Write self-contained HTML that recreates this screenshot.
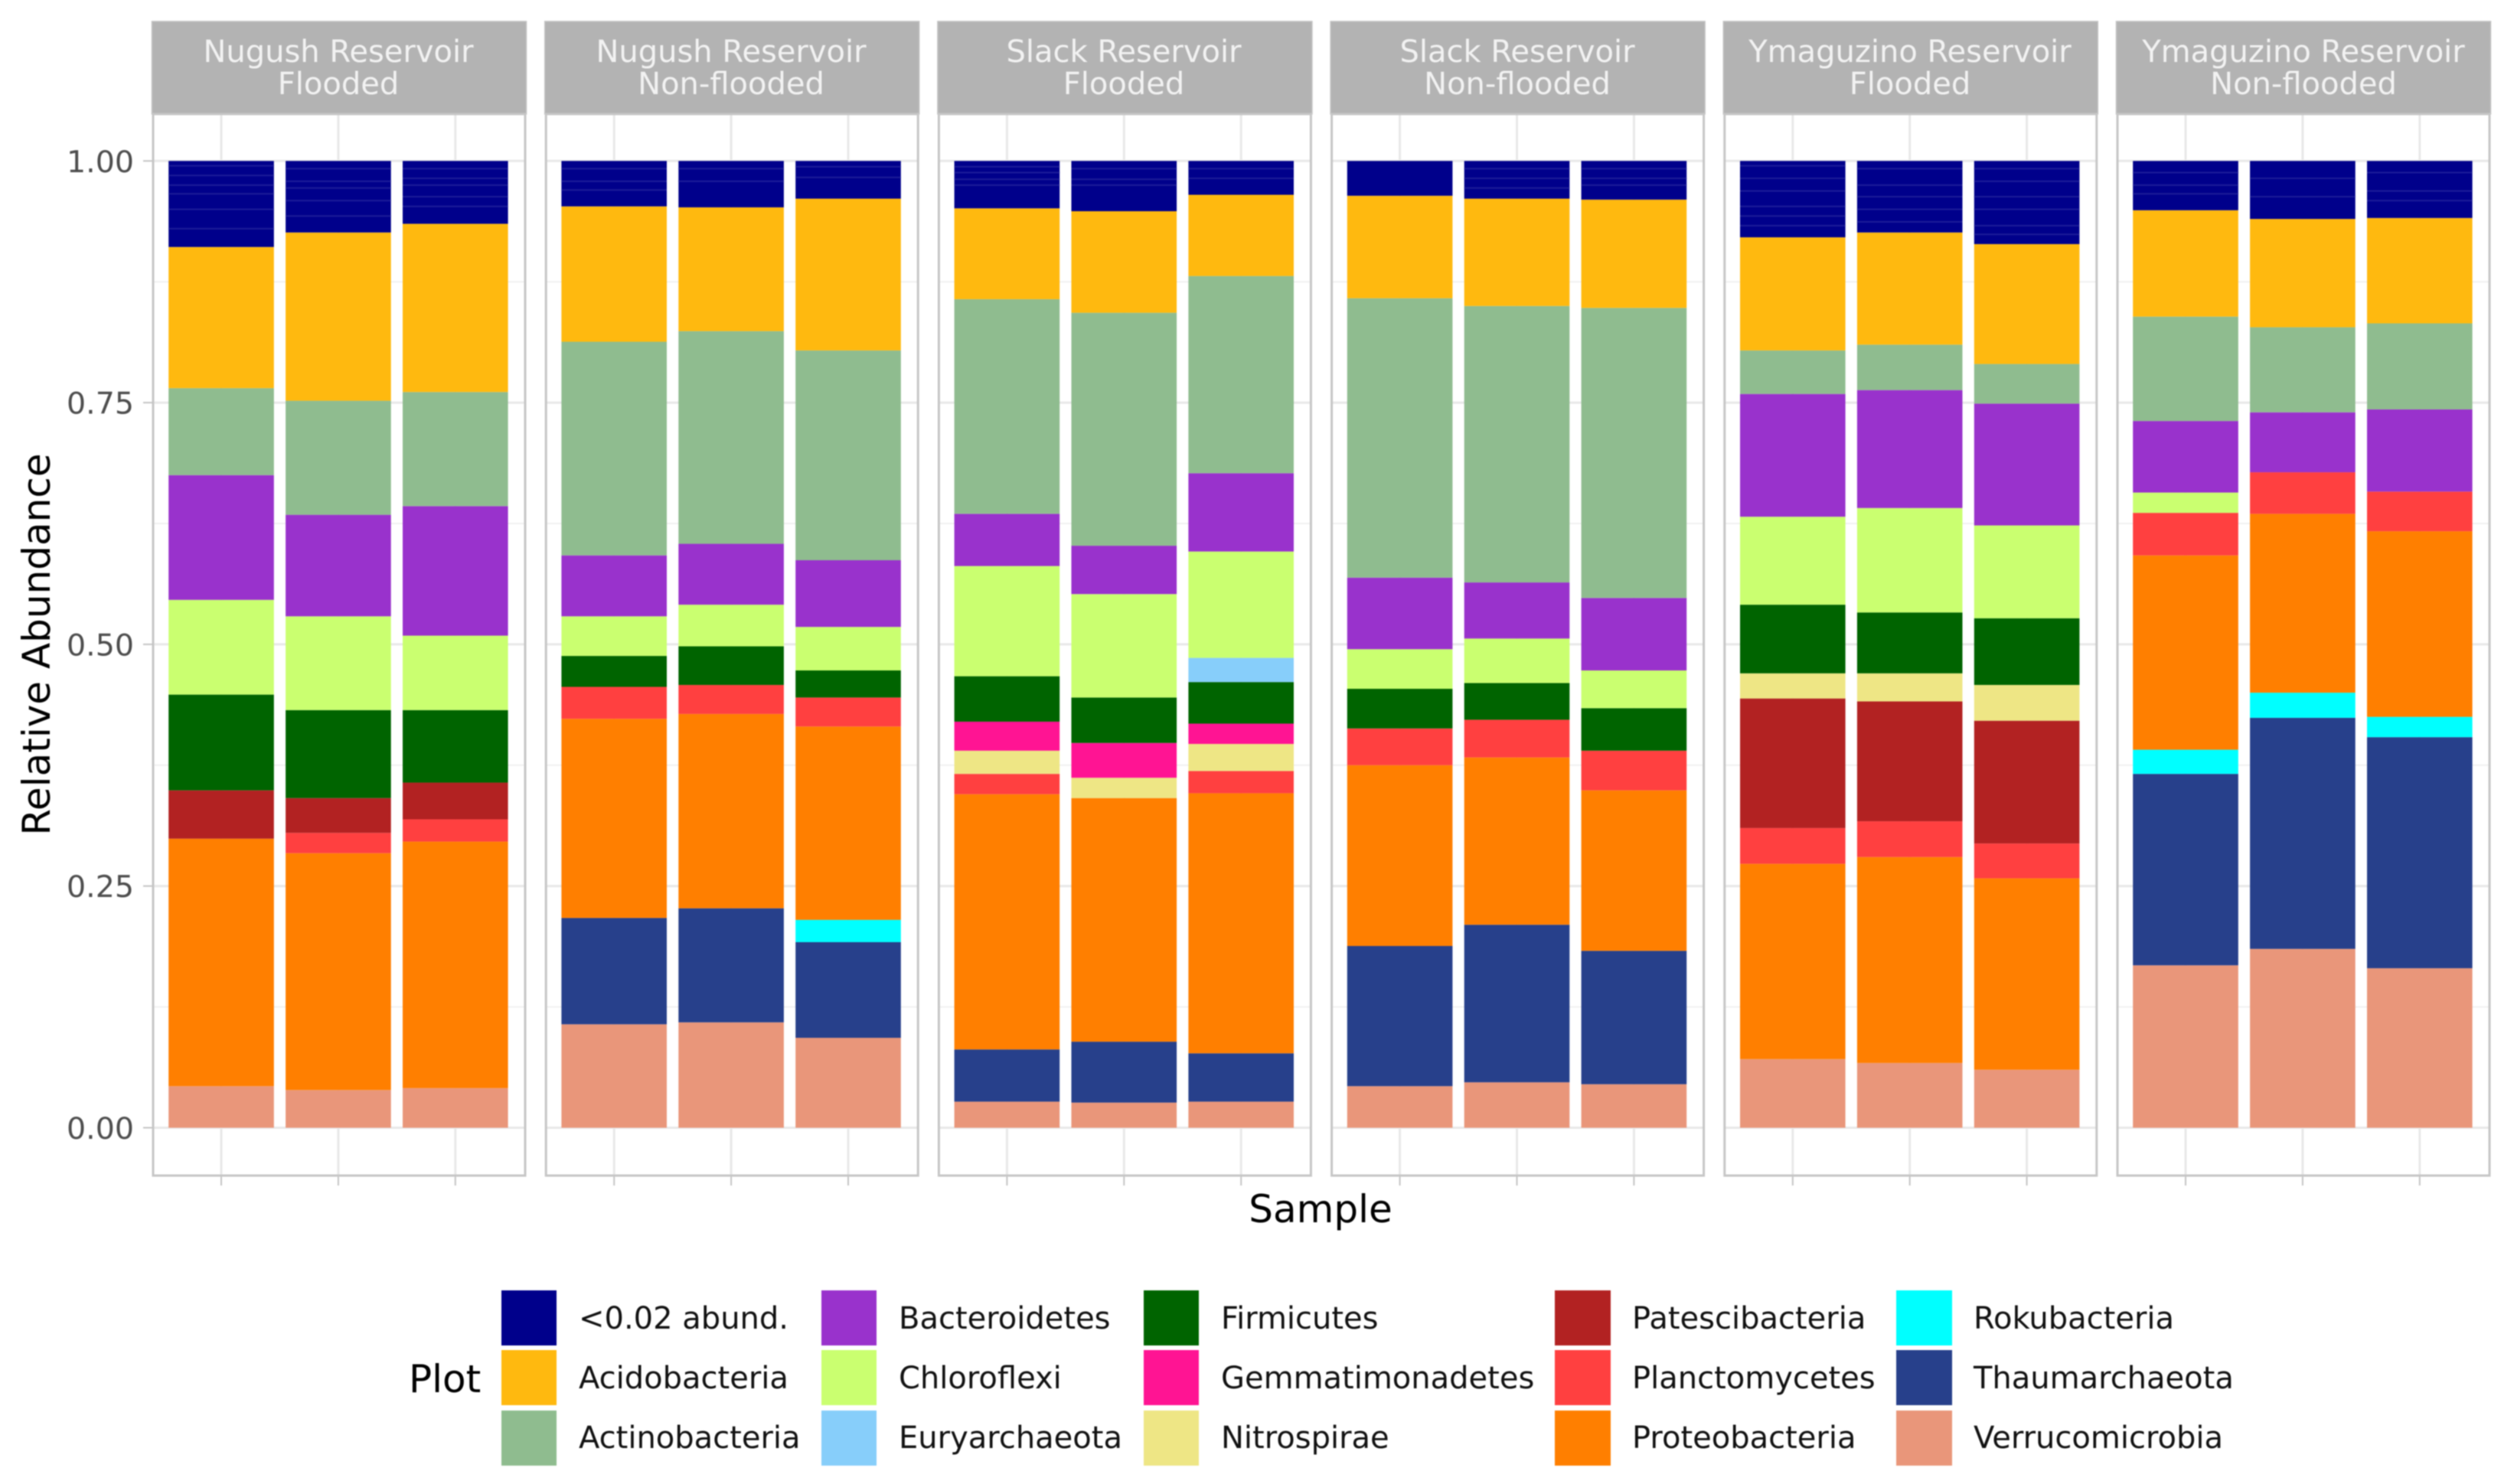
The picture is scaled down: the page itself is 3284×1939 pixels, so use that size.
<!DOCTYPE html>
<html lang="en">
<head>
<meta charset="utf-8">
<title>Relative abundance by reservoir and flooding condition</title>
<style>
  html, body { margin: 0; padding: 0; background: #ffffff; }
  #chart { display: block; width: 3284px; height: 1939px; filter: blur(0.7px); }
  text { font-family: "DejaVu Sans", "Liberation Sans", sans-serif; }
  .strip-text { font-size: 40px; fill: #f2f2f2; text-anchor: middle; }
  .axis-title { font-size: 50px; fill: #000000; }
  .legend-text { font-size: 40px; fill: #111111; }
  .tick-text { font-size: 39.5px; fill: #4d4d4d; text-anchor: end; }
</style>
</head>
<body>
<svg id="chart" xmlns="http://www.w3.org/2000/svg" width="3284" height="1939" viewBox="0 0 3284 1939">
  <rect x="0" y="0" width="3284" height="1939" fill="#ffffff"/>
  <g id="panels"></g>

  <g>
    <text class="strip-text" x="442" y="81">Nugush Reservoir</text>
    <text class="strip-text" x="442" y="123">Flooded</text>
    <text class="strip-text" x="955" y="81">Nugush Reservoir</text>
    <text class="strip-text" x="955" y="123">Non-flooded</text>
    <text class="strip-text" x="1468" y="81">Slack Reservoir</text>
    <text class="strip-text" x="1468" y="123">Flooded</text>
    <text class="strip-text" x="1982" y="81">Slack Reservoir</text>
    <text class="strip-text" x="1982" y="123">Non-flooded</text>
    <text class="strip-text" x="2495" y="81">Ymaguzino Reservoir</text>
    <text class="strip-text" x="2495" y="123">Flooded</text>
    <text class="strip-text" x="3009" y="81">Ymaguzino Reservoir</text>
    <text class="strip-text" x="3009" y="123">Non-flooded</text>
  </g>

  <g id="y-axis"></g>

  <text class="axis-title" text-anchor="middle" transform="translate(65,842) rotate(-90)">Relative Abundance</text>
  <text class="axis-title" text-anchor="middle" x="1725" y="1597">Sample</text>

  <g>
    <text class="axis-title" x="534" y="1819">Plot</text>

    <rect x="655" y="1686" width="72" height="72" fill="#00008b"/>
    <text class="legend-text" x="756" y="1736">&lt;0.02 abund.</text>
    <rect x="655" y="1764" width="72" height="72" fill="#ffb90f"/>
    <text class="legend-text" x="756" y="1814">Acidobacteria</text>
    <rect x="655" y="1843" width="72" height="72" fill="#8fbc8f"/>
    <text class="legend-text" x="756" y="1892">Actinobacteria</text>

    <rect x="1073" y="1686" width="72" height="72" fill="#9932cc"/>
    <text class="legend-text" x="1174" y="1736">Bacteroidetes</text>
    <rect x="1073" y="1764" width="72" height="72" fill="#caff70"/>
    <text class="legend-text" x="1174" y="1814">Chloroflexi</text>
    <rect x="1073" y="1843" width="72" height="72" fill="#87cefa"/>
    <text class="legend-text" x="1174" y="1892">Euryarchaeota</text>

    <rect x="1494" y="1686" width="72" height="72" fill="#006400"/>
    <text class="legend-text" x="1595" y="1736">Firmicutes</text>
    <rect x="1494" y="1764" width="72" height="72" fill="#ff1493"/>
    <text class="legend-text" x="1595" y="1814">Gemmatimonadetes</text>
    <rect x="1494" y="1843" width="72" height="72" fill="#eee685"/>
    <text class="legend-text" x="1595" y="1892">Nitrospirae</text>

    <rect x="2031" y="1686" width="73" height="72" fill="#b22222"/>
    <text class="legend-text" x="2132" y="1736">Patescibacteria</text>
    <rect x="2031" y="1764" width="73" height="72" fill="#ff4040"/>
    <text class="legend-text" x="2132" y="1814">Planctomycetes</text>
    <rect x="2031" y="1843" width="73" height="72" fill="#ff7f00"/>
    <text class="legend-text" x="2132" y="1892">Proteobacteria</text>

    <rect x="2477" y="1686" width="73" height="72" fill="#00ffff"/>
    <text class="legend-text" x="2578" y="1736">Rokubacteria</text>
    <rect x="2477" y="1764" width="73" height="72" fill="#27408b"/>
    <text class="legend-text" x="2578" y="1814">Thaumarchaeota</text>
    <rect x="2477" y="1843" width="73" height="72" fill="#e9967a"/>
    <text class="legend-text" x="2578" y="1892">Verrucomicrobia</text>
  </g>
</svg>

<script>
// Bars run left to right: six facets, three samples each.
const abund   = [.089,.074,.065, .047,.048,.039, .049,.052,.035, .036,.039,.040, .079,.074,.086, .051,.060,.059];
const acido   = [.146,.174,.174, .140,.128,.157, .094,.105,.084, .106,.111,.112, .117,.116,.124, .110,.112,.109];
const actino  = [.090,.118,.118, .221,.220,.217, .222,.241,.204, .289,.286,.300, .045,.047,.041, .108,.088,.089];
const bactero = [.129,.105,.134, .063,.063,.069, .054,.050,.081, .074,.058,.075, .127,.122,.126, .074,.062,.085];
const chloro  = [.098,.097,.077, .041,.043,.045, .114,.107,.110, .041,.046,.039, .091,.108,.096, .021,0,0];
const eury    = [0,0,0, 0,0,0, 0,0,.025, 0,0,0, 0,0,0, 0,0,0];
const firmi   = [.099,.091,.075, .032,.040,.028, .047,.047,.043, .041,.038,.044, .071,.063,.069, 0,0,0];
const gemma   = [0,0,0, 0,0,0, .030,.036,.021, 0,0,0, 0,0,0, 0,0,0];
const nitro   = [0,0,0, 0,0,0, .024,.021,.028, 0,0,0, .026,.029,.037, 0,0,0];
const pates   = [.050,.036,.038, 0,0,0, 0,0,0, 0,0,0, .134,.124,.127, 0,0,0];
const plancto = [0,.021,.023, .033,.030,.030, .021,0,.023, .038,.039,.041, .037,.037,.036, .044,.043,.041];
const proteo  = [.256,.245,.255, .206,.201,.200, .264,.252,.269, .187,.173,.166, .202,.213,.198, .201,.185,.192];
const roku    = [0,0,0, 0,0,.023, 0,0,0, 0,0,0, 0,0,0, .025,.026,.021];
const thaum   = [0,0,0, .110,.118,.099, .054,.063,.050, .145,.163,.138, 0,0,0, .198,.239,.239];
const verruco = [.043,.039,.041, .107,.109,.093, .027,.026,.027, .043,.047,.045, .071,.067,.060, .168,.185,.165];

// Depths of the faint rare-taxa seams inside each "<0.02 abund." block.
const rareSeams = [
  [.005,.015,.025,.034,.050,.070], [.008,.021,.028,.041,.057], [.008,.018,.025,.037,.047],
  [.008,.021,.030], [.008,.021], [.006,.017],
  [.006,.012,.019,.025], [.008,.019,.025], [.008,.018],
  [], [.008,.018,.028], [.008,.018,.025],
  [.005,.018,.031,.047,.057,.067], [.008,.025,.037,.050,.063], [.008,.021,.037,.050,.067,.076],
  [.012,.025,.034], [.018,.037], [.012,.031,.041]
];

const seriesNames = ['abund','acidobacteria','actinobacteria','bacteroidetes','chloroflexi','euryarchaeota','firmicutes','gemmatimonadetes','nitrospirae','patescibacteria','planctomycetes','proteobacteria','rokubacteria','thaumarchaeota','verrucomicrobia'];
const seriesValues = [abund,acido,actino,bactero,chloro,eury,firmi,gemma,nitro,pates,plancto,proteo,roku,thaum,verruco];
const seriesColors = ['#00008b','#ffb90f','#8fbc8f','#9932cc','#caff70','#87cefa','#006400','#ff1493','#eee685','#b22222','#ff4040','#ff7f00','#00ffff','#27408b','#e9967a'];

const yTickValues = [0, 0.25, 0.5, 0.75, 1];
const yTickLabels = ['0.00', '0.25', '0.50', '0.75', '1.00'];
const yMinorValues = [0.125, 0.375, 0.625, 0.875];
const panelCount = 6;
const samplesPerPanel = 3;

const SVG_NS = 'http://www.w3.org/2000/svg';
const panelsRoot = document.getElementById('panels');
const yAxisRoot = document.getElementById('y-axis');

function yScale(v) { return 1473.5 - v * 1263.2; }
function panelLeft(p) { return 200 + p * 513.2; }
function xScale(p, s) { return panelLeft(p) + 89 + s * 152.9; }
function make(tag, attrs, parent) {
  const node = document.createElementNS(SVG_NS, tag);
  for (const k in attrs) node.setAttribute(k, attrs[k]);
  parent.appendChild(node);
  return node;
}

const PANEL_W = 486, PANEL_TOP = 149, PANEL_BOTTOM = 1536, BAR_W = 137.6;

for (let p = 0; p < panelCount; p++) {
  const left = panelLeft(p);
  const group = make('g', {}, panelsRoot);
  
  

  const strip = make('rect', { x: left - 1.5, y: 28, width: PANEL_W + 3, height: PANEL_TOP - 28, fill: '#b3b3b3', stroke: '#c2c2c2', 'stroke-width': 1.5 }, group);
  
  

  yMinorValues.forEach(function (v) {
    const line = make('line', { x1: left, x2: left + PANEL_W, y1: yScale(v), y2: yScale(v), stroke: '#f1f1f1', 'stroke-width': 2 }, group);
    
    
  });
  yTickValues.forEach(function (v) {
    const line = make('line', { x1: left, x2: left + PANEL_W, y1: yScale(v), y2: yScale(v), stroke: '#e8e8e8', 'stroke-width': 3 }, group);
    
    
  });
  for (let s = 0; s < samplesPerPanel; s++) {
    const x = xScale(p, s);
    const grid = make('line', { x1: x, x2: x, y1: PANEL_TOP, y2: PANEL_BOTTOM, stroke: '#e8e8e8', 'stroke-width': 3 }, group);
    
    
    const tick = make('line', { x1: x, x2: x, y1: PANEL_BOTTOM, y2: 1549, stroke: '#c4c4c4', 'stroke-width': 2 }, group);
    
    
  }

  for (let s = 0; s < samplesPerPanel; s++) {
    const barIndex = p * samplesPerPanel + s;
    const x = xScale(p, s);
    let cumulative = 0;
    // The stack is drawn from the last series at the bottom up to the first at the top.
    for (let k = seriesValues.length - 1; k >= 0; k--) {
      const value = seriesValues[k][barIndex];
      if (value <= 0) continue;
      const yTop = yScale(cumulative + value);
      const yBottom = yScale(cumulative);
      const seg = make('rect', { x: x - BAR_W / 2, y: yTop, width: BAR_W, height: yBottom - yTop, fill: seriesColors[k] }, group);
      
      
      cumulative += value;
    }
    const stackTop = cumulative;
    rareSeams[barIndex].forEach(function (depth) {
      if (depth >= abund[barIndex]) return;
      const seam = make('line', { x1: x - BAR_W / 2, x2: x + BAR_W / 2, y1: yScale(stackTop - depth), y2: yScale(stackTop - depth), stroke: '#1c1c98', 'stroke-width': 2 }, group);
      
      
    });
  }

  const border = make('rect', { x: left, y: PANEL_TOP, width: PANEL_W, height: PANEL_BOTTOM - PANEL_TOP, fill: 'none', stroke: '#c6c6c6', 'stroke-width': 3 }, group);
  
  
}

yTickValues.forEach(function (v, i) {
  const tick = make('line', { x1: 187, x2: 200, y1: yScale(v), y2: yScale(v), stroke: '#c4c4c4', 'stroke-width': 2 }, yAxisRoot);
  
  
  const label = make('text', { x: 175, y: yScale(v) + 14.5, class: 'tick-text' }, yAxisRoot);
  label.textContent = yTickLabels[i];
  
  
});
</script>
</body>
</html>
